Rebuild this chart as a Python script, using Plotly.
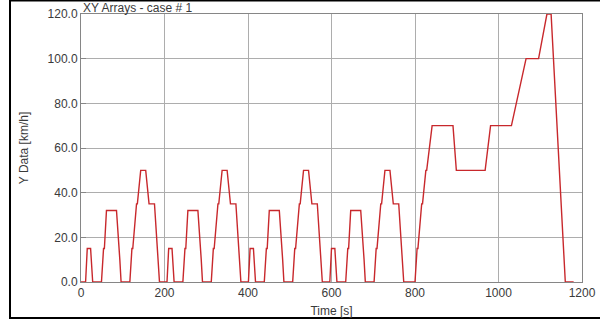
import plotly.graph_objects as go

# NEDC-like speed profile (time [s], speed [km/h])
ece_t = [0, 11, 15, 23, 28, 49, 54, 56, 61, 85, 93, 96, 117, 122, 124, 133, 135, 143, 155, 163, 176, 185, 188, 195]
ece_v = [0, 0, 15, 15, 0, 0, 15, 15, 32, 32, 10, 0, 0, 15, 15, 35, 35, 50, 50, 35, 35, 10, 0, 0]
eudc_t = [0, 20, 25, 27, 36, 38, 46, 48, 61, 111, 119, 188, 201, 251, 286, 316, 336, 346, 380, 400]
eudc_v = [0, 0, 15, 15, 35, 35, 50, 50, 70, 70, 50, 50, 70, 70, 100, 100, 120, 120, 0, 0]
ece_repeats = 4
ece_period = 195

time = []
speed = []
for k in range(ece_repeats):
    for t, v in zip(ece_t, ece_v):
        time.append(t + k * ece_period)
        speed.append(v)
offset = ece_repeats * ece_period
for t, v in zip(eudc_t, eudc_v):
    time.append(t + offset)
    speed.append(v)

x_ticks = [0, 200, 400, 600, 800, 1000, 1200]
y_ticks = [0, 20, 40, 60, 80, 100, 120]

fig = go.Figure()
fig.add_trace(go.Scatter(x=time, y=speed, mode="lines",
                         line=dict(color="#c8282c", width=1.4), hoverinfo="skip"))

font = dict(family="Liberation Sans, Arial, sans-serif", size=12, color="#3a3a3a")

fig.update_layout(
    width=600, height=324,
    margin=dict(l=81, r=18, t=14, b=42, autoexpand=False),
    paper_bgcolor="white", plot_bgcolor="white",
    showlegend=False,
    font=font,
    xaxis=dict(range=[0, 1200], tickvals=x_ticks, ticktext=[str(v) for v in x_ticks],
               showgrid=True, gridcolor="#adadad", gridwidth=1, zeroline=False,
               showline=True, linecolor="#868686", linewidth=1, mirror=True,
               ticks="", tickfont=font, automargin=False,
               title=dict(text="Time [s]", font=font, standoff=7)),
    yaxis=dict(range=[0, 120], tickvals=y_ticks, ticktext=[f"{v:.1f}" for v in y_ticks],
               showgrid=True, gridcolor="#adadad", gridwidth=1, zeroline=False,
               showline=True, linecolor="#868686", linewidth=1, mirror=True,
               ticks="inside", ticklen=5, tickcolor="#868686", tickfont=font, automargin=False,
               title=dict(text="Y Data [km/h]", font=font, standoff=16)),
    annotations=[dict(text="XY Arrays - case # 1", xref="paper", yref="paper",
                      x=0, y=1, xanchor="left", yanchor="bottom", yshift=-3,
                      showarrow=False, font=font)],
    shapes=[dict(type="rect", xref="paper", yref="paper",
                 x0=(10 - 81) / 501, x1=(604 - 81) / 501,
                 y0=-(318 - 282) / 268, y1=(282 - 0.5) / 268,
                 line=dict(color="black", width=2), fillcolor="rgba(0,0,0,0)", layer="below")],
)

fig.write_html("out.html", config={"displayModeBar": False},
               post_script="document.body.style.margin='0';")
